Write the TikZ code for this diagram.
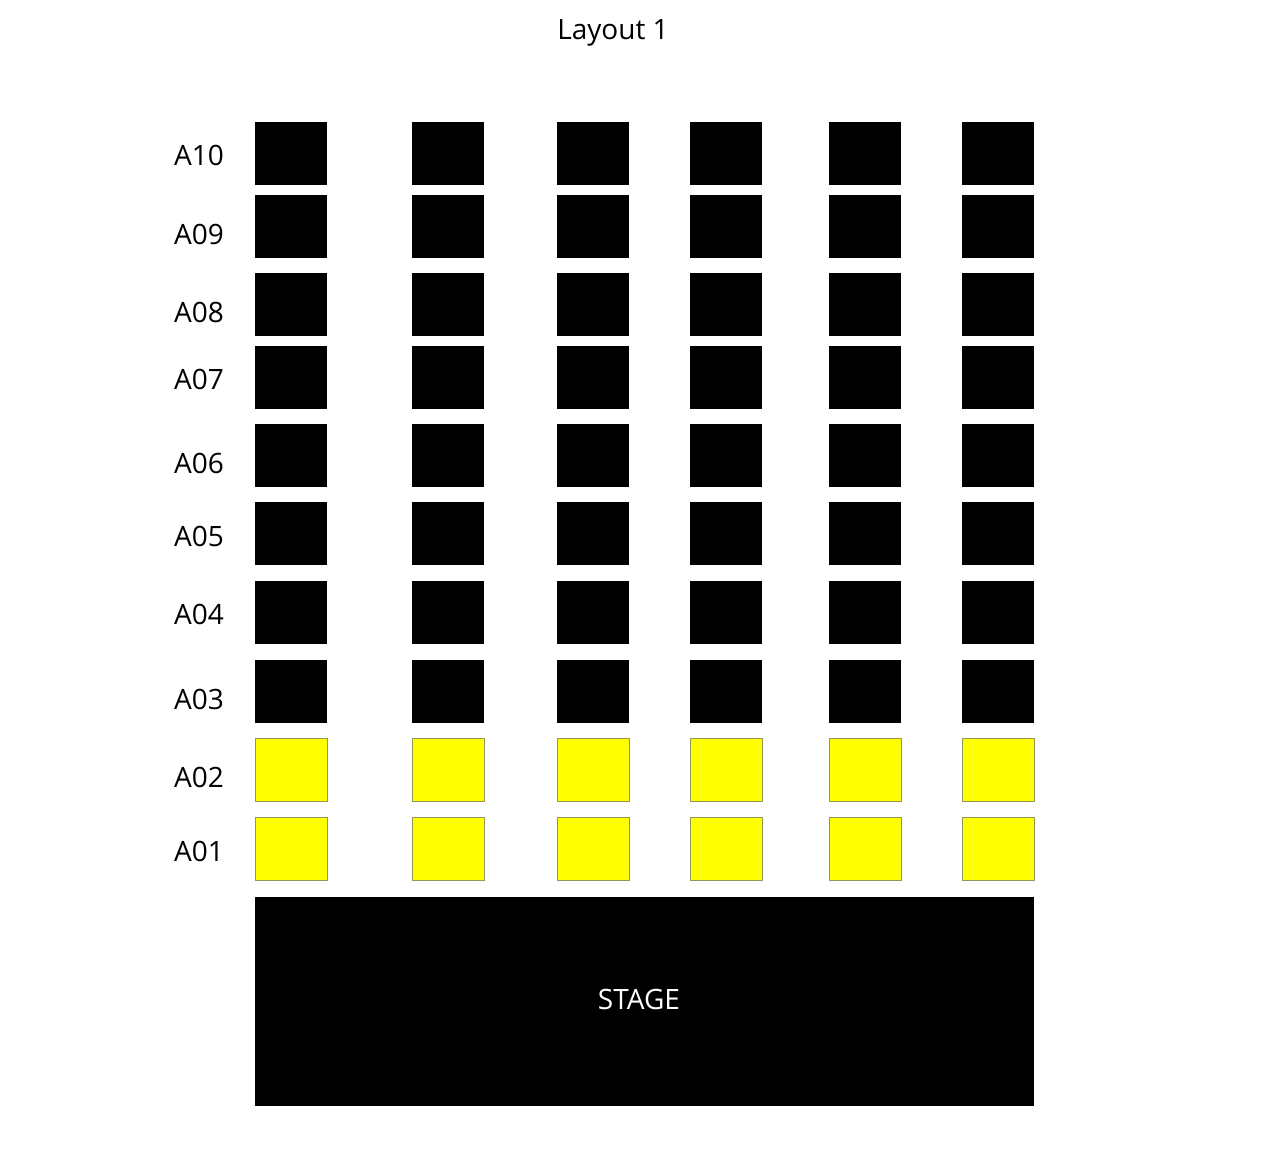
\documentclass[tikz,border=0pt]{standalone}
\usepackage{fontspec}
\setmainfont{Open Sans}
\usetikzlibrary{positioning}
\definecolor{seatyellow}{RGB}{255,255,0}
\definecolor{seatedge}{RGB}{150,150,90}
\tikzset{
seat/.style={fill=black, minimum width=72pt, minimum height=63pt, inner sep=0pt},
freeseat/.style={seat, fill=seatyellow, draw=seatedge, line width=0.6pt},
rowlabel/.style={font=\fontsize{28}{33}\selectfont, inner sep=0pt},
stagebox/.style={fill=black, minimum width=779pt, minimum height=209pt, inner sep=0pt},
stagename/.style={text=white, font=\fontsize{28}{33}\selectfont, inner sep=0pt}
}
\begin{document}
\begin{tikzpicture}[x=1pt, y=-1pt]
\useasboundingbox (0,0) rectangle (1280,1160);
\node[rowlabel] (title) at (613,33) {Layout 1};
% rows of seats, front rows are free
\foreach \r/\y/\ly in {10/153.5/155, 09/226.5/234, 08/304.5/312, 07/377.5/379, 06/455.5/463, 05/533.5/536, 04/612.5/614, 03/691.5/699, 02/769.5/777, 01/848.5/851} {
\node[rowlabel] (lblA\r) at (199,\ly) {A\r};
\foreach \c/\x in {1/291, 2/448, 3/593, 4/726, 5/865, 6/998} {
\ifnum\r<3
\node[freeseat] (seatA\r c\c) at (\x,\y) {};
\else
\node[seat] (seatA\r c\c) at (\x,\y) {};
\fi
}
}
\node[stagebox] (stage) at (644.5,1001.5) {};
\node[stagename] (stagetext) at (639,999) {STAGE};
\end{tikzpicture}
\end{document}
